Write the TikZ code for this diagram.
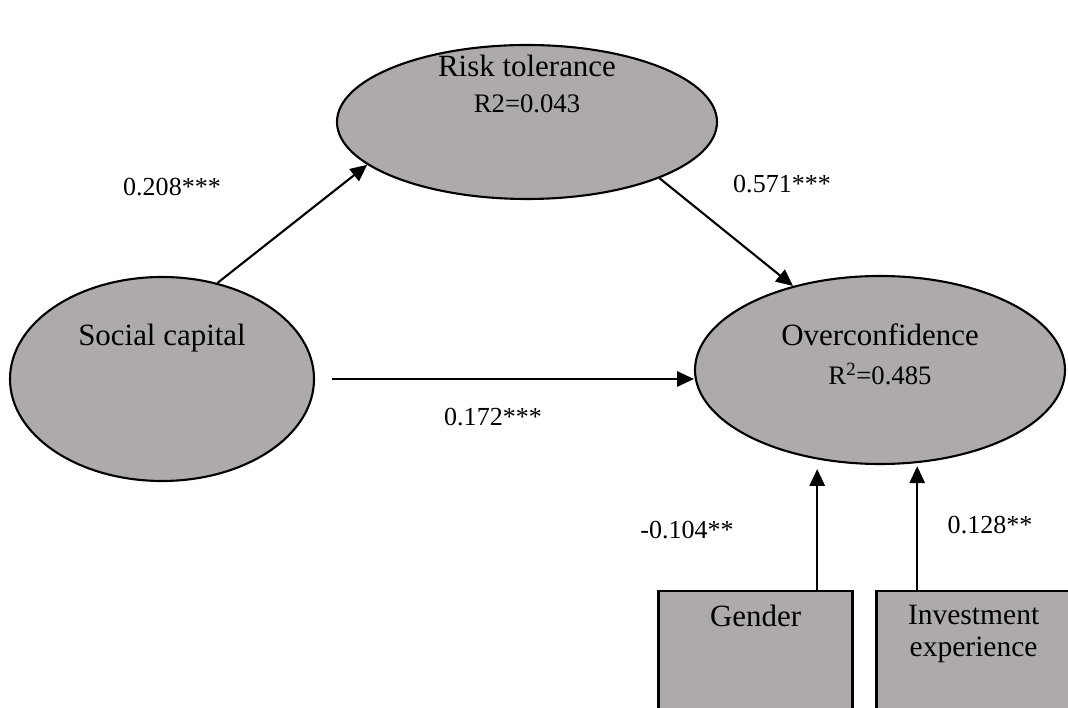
\documentclass[tikz,border=0pt]{standalone}
\usepackage{fontspec}
\setmainfont{Liberation Serif}
\usepackage{tikz}
\usetikzlibrary{arrows.meta,shapes.geometric,calc}
\definecolor{latclr}{HTML}{AEAAAA}
\tikzset{
    latent/.style={ellipse,draw=black,line width=1.5pt,fill=latclr,inner sep=0pt},
    ctrl/.style={rectangle,draw=black,line width=1.6pt,fill=latclr,
                 minimum width=4.85cm,minimum height=3.75cm,anchor=north},
    lbl/.style={font=\fontsize{22}{25}\selectfont,align=center},
    coef/.style={font=\fontsize{18.5}{22}\selectfont},
    link/.style={-{Triangle[length=4.2mm,width=3.8mm]},line width=1.5pt},
}

\begin{document}
\begin{tikzpicture}
\useasboundingbox (0,0) rectangle (26.7,17.7);
\clip (0,0) rectangle (26.7,17.7);

\node[latent,minimum width=9.5cm,minimum height=3.85cm,
      label={[lbl,yshift=0.95cm]center:Risk tolerance\\{\fontsize{19}{22}\selectfont R2=0.043}}]
      (risk) at (13.175,14.65) {};
\node[latent,minimum width=7.6cm,minimum height=5.1cm,
      label={[lbl,yshift=1.025cm]center:Social capital}]
      (soc) at (4.05,8.225) {};
\node[latent,minimum width=9.25cm,minimum height=4.7cm,
      label={[lbl,font=\fontsize{22}{28}\selectfont,yshift=0.4cm]center:Overconfidence\\{\fontsize{19}{22}\selectfont R\textsuperscript{2}=0.485}}]
      (over) at (22.0,8.45) {};

\node[ctrl,label={[lbl,anchor=north,yshift=-0.25cm]north:Gender}] (gen) at (18.89,2.95) {};
\node[ctrl,label={[lbl,font=\fontsize{21}{23}\selectfont,anchor=north,yshift=-0.25cm]north:Investment\\experience}]
      (inv) at (24.34,2.95) {};

\draw[link] (soc.60) -- (risk.195);
\draw[link] (risk.337) -- (over.136);
\draw[link] ([xshift=0.42cm]soc.east) -- (soc.east -| over.west);
\draw[link,shorten >=0.1cm] ([xshift=1.54cm]gen.north) -- ([xshift=1.54cm]gen.north |- over.south);
\draw[link,shorten >=0.03cm] ([xshift=-1.41cm]inv.north) -- ([xshift=-1.41cm]inv.north |- over.south);

\node[coef] (c1) at (4.3,13.025)   {0.208***};
\node[coef] (c2) at (19.55,13.1)   {0.571***};
\node[coef] (c3) at (12.325,7.275) {0.172***};
\node[coef] (c4) at (17.175,4.45)  {-0.104**};
\node[coef] (c5) at (24.75,4.575)  {0.128**};
\end{tikzpicture}
\end{document}
